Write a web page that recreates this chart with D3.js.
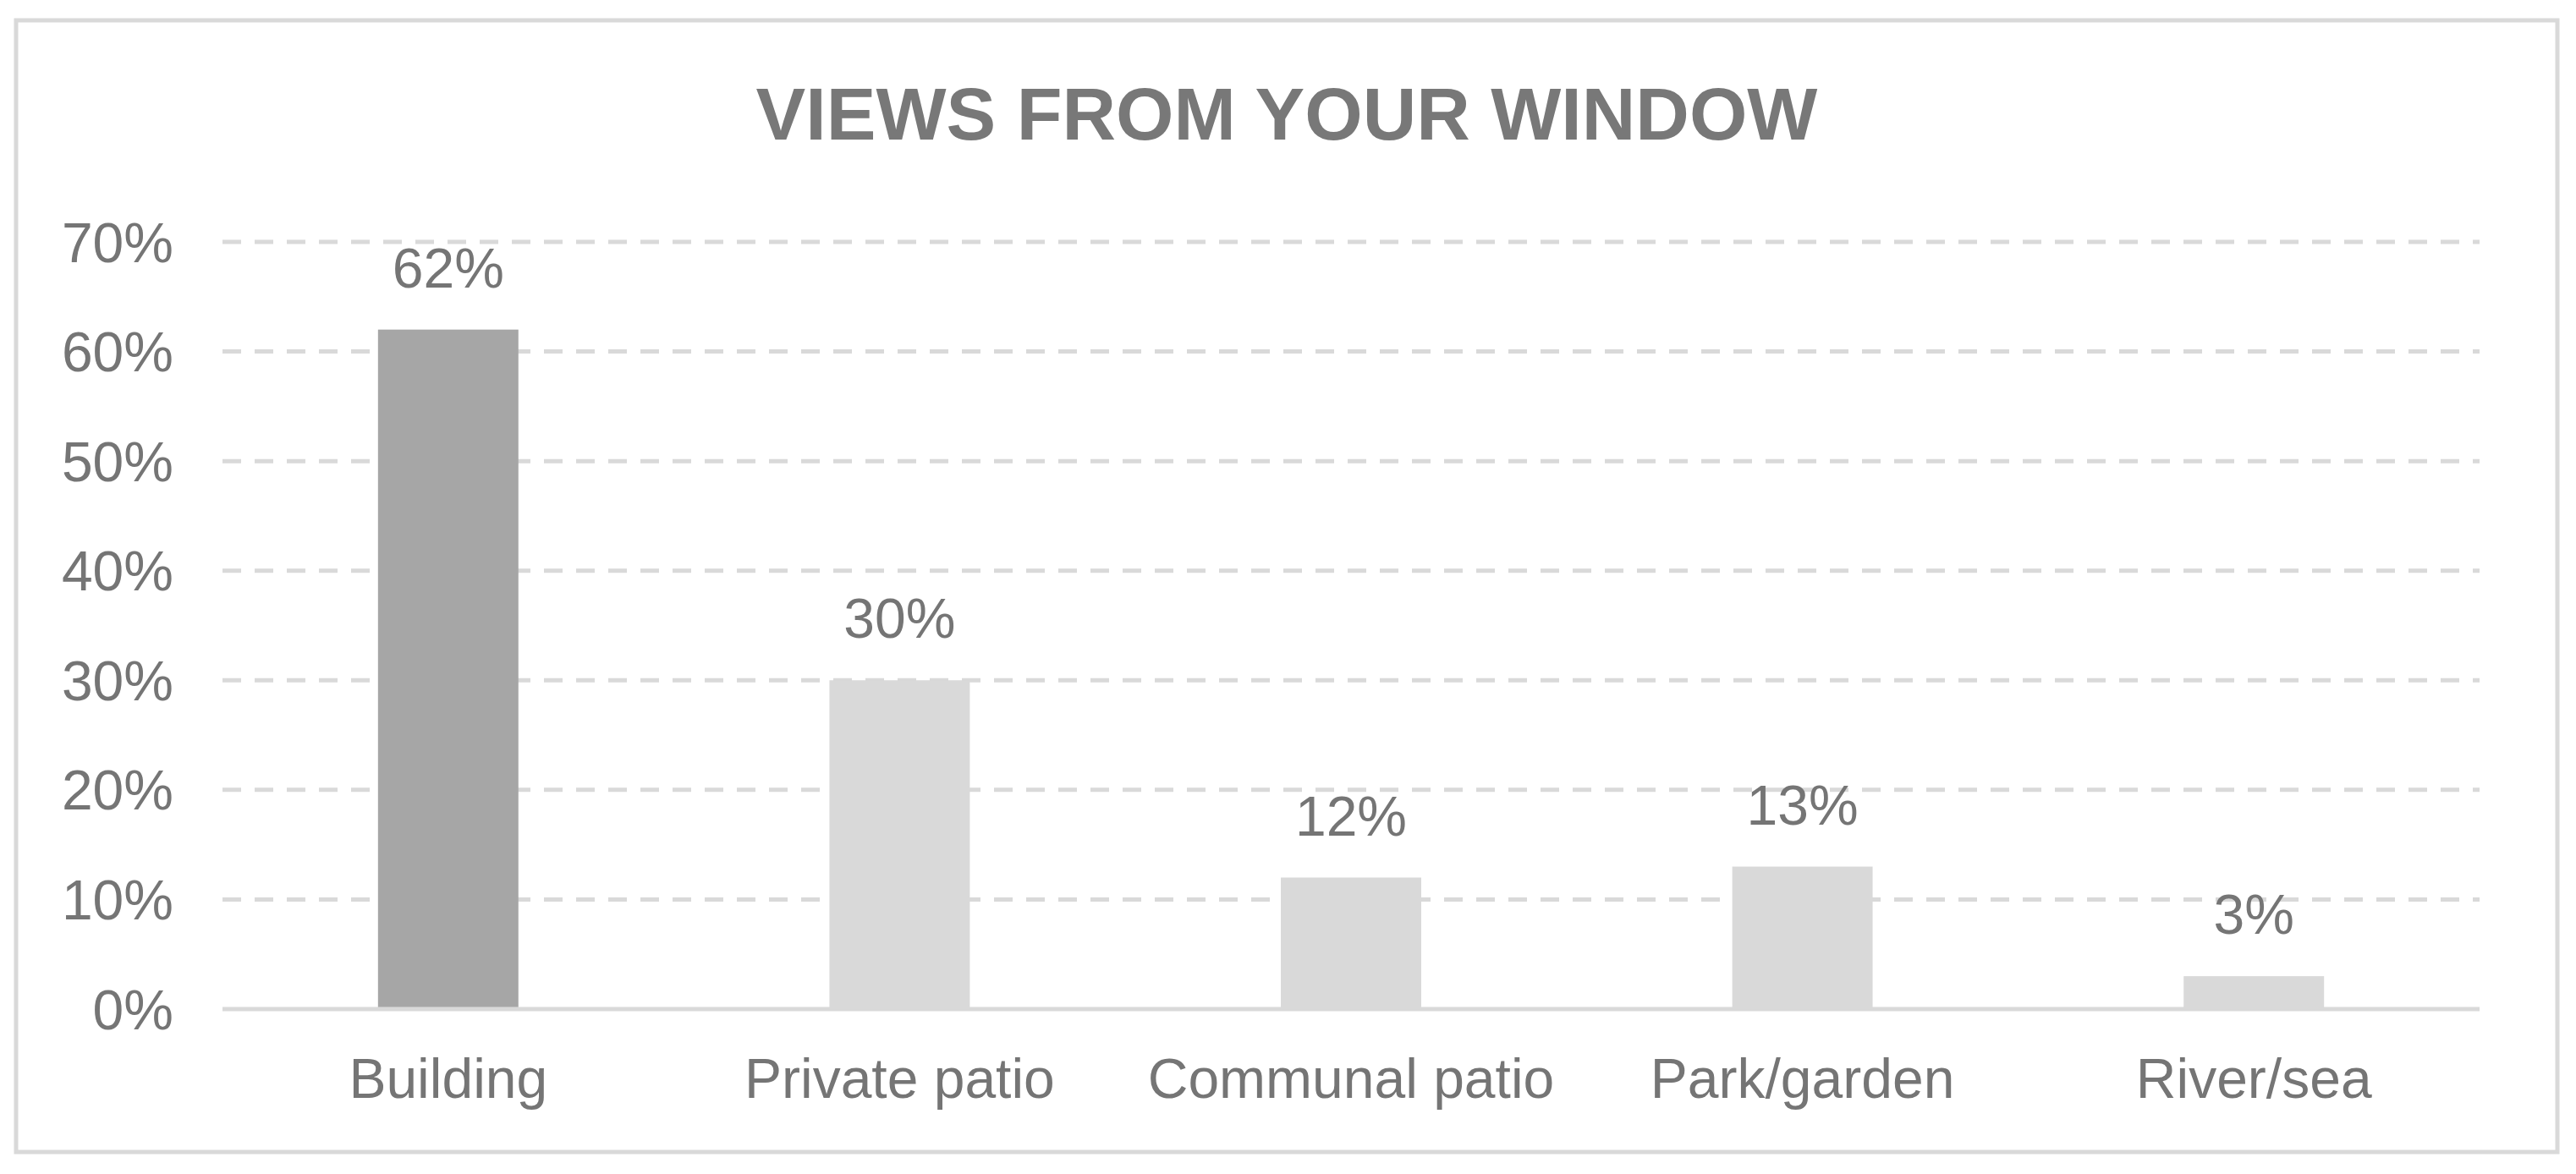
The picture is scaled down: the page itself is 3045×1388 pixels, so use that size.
<!DOCTYPE html>
<html>
<head>
<meta charset="utf-8">
<script src="https://cdn.jsdelivr.net/npm/d3@7"></script>
<style>
  html, body { margin: 0; padding: 0; background: #ffffff; }
  svg { display: block; }
  text { font-family: "Liberation Sans", Arial, Helvetica, sans-serif; }
</style>
</head>
<body>
<script>
// Share of respondents by the main view from their window
const categories = ["Building", "Private patio", "Communal patio", "Park/garden", "River/sea"];
const shares = [0.62, 0.30, 0.12, 0.13, 0.03];
const yTicks = [0, 0.1, 0.2, 0.3, 0.4, 0.5, 0.6, 0.7];
const chartTitle = "VIEWS FROM YOUR WINDOW";

const width = 3045, height = 1388;
const plot = { left: 263, right: 2931, top: 286, bottom: 1193 };
const labelColor = "#757575";

const svg = d3.select("body").append("svg")
  .attr("width", width)
  .attr("height", height);

// chart frame
svg.append("rect")
  .attr("x", 19).attr("y", 24)
  .attr("width", 3004).attr("height", 1338)
  .attr("fill", "#ffffff")
  .attr("stroke", "#d9d9d9")
  .attr("stroke-width", 5);

// title
svg.append("text")
  .attr("x", 1521).attr("y", 165)
  .attr("text-anchor", "middle")
  .attr("font-size", 88)
  .attr("font-weight", "bold")
  .attr("fill", "#787878")
  .text(chartTitle);

const x = d3.scaleBand()
  .domain(categories)
  .range([plot.left, plot.right])
  .paddingInner(0.689)
  .paddingOuter(0.3445);

const y = d3.scaleLinear()
  .domain([0, 0.7])
  .range([plot.bottom, plot.top]);

const pct = d3.format(".0%");

// dashed horizontal gridlines
svg.append("g")
  .selectAll("line")
  .data(yTicks.filter(t => t > 0))
  .join("line")
  .attr("x1", plot.left).attr("x2", plot.right)
  .attr("y1", d => y(d)).attr("y2", d => y(d))
  .attr("stroke", "#d9d9d9")
  .attr("stroke-width", 5)
  .attr("stroke-dasharray", "22 16");

// y axis labels
const yAxis = svg.append("g")
  .attr("transform", `translate(${plot.left - 58},0)`)
  .call(d3.axisLeft(y).tickValues(yTicks).tickFormat(pct).tickSize(0).tickPadding(0));
yAxis.select(".domain").remove();
yAxis.selectAll("text")
  .attr("font-size", 66)
  .attr("font-family", "'Liberation Sans', Arial, sans-serif")
  .attr("fill", labelColor)
  .attr("dy", "0.35em");

// bars
svg.append("g")
  .selectAll("rect")
  .data(categories.map((c, i) => ({ c, v: shares[i] })))
  .join("rect")
  .attr("x", d => x(d.c))
  .attr("width", x.bandwidth())
  .attr("y", d => y(d.v))
  .attr("height", d => y(0) - y(d.v))
  .attr("fill", (d, i) => i === 0 ? "#a6a6a6" : "#d9d9d9");

// baseline
svg.append("line")
  .attr("x1", plot.left).attr("x2", plot.right)
  .attr("y1", y(0)).attr("y2", y(0))
  .attr("stroke", "#d9d9d9")
  .attr("stroke-width", 5);

// value labels
svg.append("g")
  .selectAll("text")
  .data(categories.map((c, i) => ({ c, v: shares[i] })))
  .join("text")
  .attr("x", d => x(d.c) + x.bandwidth() / 2)
  .attr("y", d => y(d.v) - 50)
  .attr("text-anchor", "middle")
  .attr("font-size", 66)
  .attr("fill", labelColor)
  .text(d => pct(d.v));

// category labels
const xAxis = svg.append("g")
  .attr("transform", `translate(0,${plot.bottom})`)
  .call(d3.axisBottom(x).tickSize(0).tickPadding(0));
xAxis.select(".domain").remove();
xAxis.selectAll("text")
  .attr("font-size", 66)
  .attr("font-family", "'Liberation Sans', Arial, sans-serif")
  .attr("fill", labelColor)
  .attr("dy", null)
  .attr("y", 105);
</script>
</body>
</html>
